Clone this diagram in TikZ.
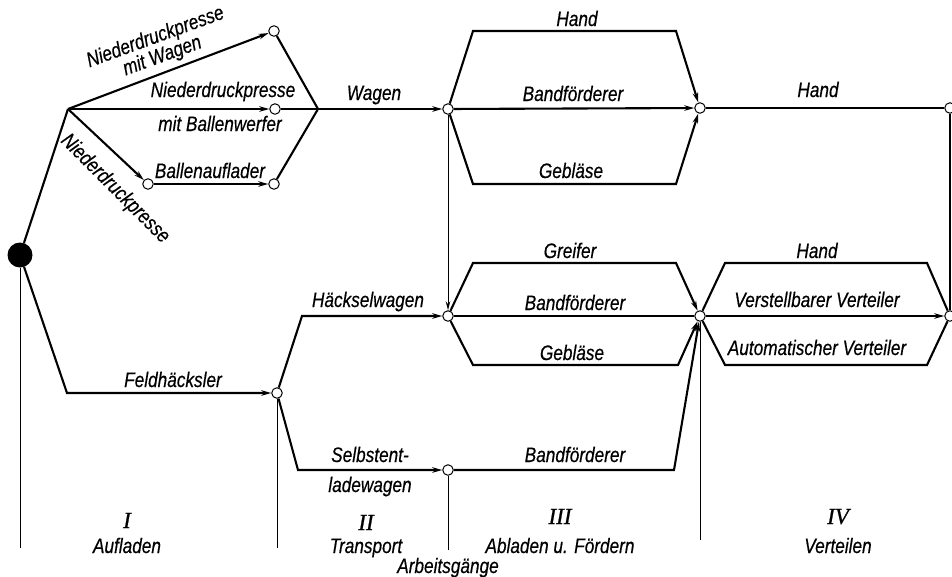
\documentclass[tikz,border=0pt]{standalone}
\usepackage{fontspec}
\setmainfont{Liberation Sans}
\newfontfamily\labfont[FakeStretch=0.82,FakeBold=0.4]{Liberation Sans}
\newfontfamily\romfont[FakeBold=0.8]{Liberation Serif}
\usetikzlibrary{arrows.meta}
\begin{document}
\begin{tikzpicture}[x=1pt,y=-1pt,
  mainline/.style={line width=2.1pt},
  guide/.style={line width=1pt},
  arr/.style={mainline,-{Stealth[length=10pt,width=5.5pt]}},
  hub/.style={circle,draw,fill=white,line width=1pt,inner sep=0pt,minimum size=10.5pt},
  lbl/.style={font=\fontsize{21}{20}\selectfont\labfont\itshape,inner sep=0pt,anchor=base},
  rom/.style={font=\fontsize{23}{24}\selectfont\romfont\itshape,inner sep=0pt,anchor=base}
]
\useasboundingbox (0,0) rectangle (952,576);
\fill[white] (0,0) rectangle (952,576);

% nodes
\node[circle,fill=black,inner sep=0pt,minimum size=25pt] (start) at (20,255) {};
\coordinate (b1) at (68,109);
\node[hub] (n1) at (274,31) {};
\node[hub] (n2) at (275,109) {};
\node[hub] (n3) at (148,184) {};
\node[hub] (n4) at (274,184) {};
\coordinate (m1) at (318,109);
\node[hub] (h1) at (448,109) {};
\node[hub] (h2) at (700,108) {};
\node[hub] (h3) at (950,108) {};
\node[hub] (L1) at (277,393) {};
\node[hub] (L2) at (448,316) {};
\node[hub] (L3) at (448,470) {};
\node[hub] (L4) at (700,316) {};
\node[hub] (L5) at (950,316) {};
\coordinate (e0) at (20,548);
\coordinate (e1) at (277,548);
\coordinate (e2) at (448,550);
\coordinate (e3) at (700,540);

% phase separators
\draw[guide] (start) -- (e0);
\draw[guide] (L1) -- (e1);
\draw[guide] (L3) -- (e2);
\draw[guide] (L4) -- (e3);
\draw[guide,-{Stealth[length=9pt,width=4.5pt]}] (h1) -- (L2);

% upper branch
\draw[mainline] (start) -- (b1);
\draw[arr] (b1) -- (n1);
\draw[arr] (b1) -- (n2);
\draw[arr] (b1) -- (n3);
\draw[arr] (n3) -- (n4);
\draw[mainline] (n1) -- (m1);
\draw[mainline] (n4) -- (m1);
\draw[mainline] (n2) -- (m1);
\draw[arr] (m1) -- (h1);
\draw[arr] (h1) -- (473,31) -- (676,31) -- (h2);
\draw[arr] (h1) -- (h2);
\draw[arr] (h1) -- (473,184) -- (676,184) -- (h2);
\draw[mainline] (h2) -- (h3);
\draw[mainline] (h3) -- (L5);

% lower branch
\draw[arr] (start) -- (67,393) -- (L1);
\draw[arr] (L1) -- (302,316) -- (L2);
\draw[arr] (L1) -- (298,470) -- (L3);
\draw[arr] (L2) -- (473,263) -- (676,263) -- (L4);
\draw[mainline] (L2) -- (L4);
\draw[arr] (L2) -- (473,365) -- (678,365) -- (L4);
\draw[arr] (L3) -- (674,470) -- (L4);
\draw[mainline] (L4) -- (725,263) -- (927,263) -- (L5);
\draw[arr] (L4) -- (L5);
\draw[mainline] (L4) -- (725,365) -- (927,365) -- (L5);

% labels
\node[lbl,anchor=center,rotate=20,align=center] (t1) at (159,47) {Niederdruckpresse\\mit Wagen};
\node[lbl,anchor=center,rotate=-45] (t2) at (115,189) {Niederdruckpresse};
\node[lbl] (t3) at (223,97) {Niederdruckpresse};
\node[lbl] (t4) at (220,131) {mit Ballenwerfer};
\node[lbl] (t5) at (210,178) {Ballenauflader};
\node[lbl] (t6) at (374,100) {Wagen};
\node[lbl] (t7) at (577,26) {Hand};
\node[lbl] (t8) at (573,101) {Bandförderer};
\node[lbl] (t9) at (571,178) {Gebläse};
\node[lbl] (t10) at (818,97) {Hand};
\node[lbl] (t11) at (570,258) {Greifer};
\node[lbl] (t12) at (575,310) {Bandförderer};
\node[lbl] (t13) at (572,360) {Gebläse};
\node[lbl] (t14) at (368,307) {Häckselwagen};
\node[lbl] (t15) at (173,387) {Feldhäcksler};
\node[lbl] (t16) at (817,258) {Hand};
\node[lbl] (t17) at (817,307) {Verstellbarer Verteiler};
\node[lbl] (t18) at (817,355) {Automatischer Verteiler};
\node[lbl] (t19) at (575,462) {Bandförderer};
\node[lbl] (t20) at (370,462) {Selbstent-};
\node[lbl] (t21) at (370,492) {ladewagen};
\node[rom] (r1) at (127,528) {I};
\node[rom] (r2) at (366,530) {II};
\node[rom] (r3) at (560,524) {III};
\node[rom] (r4) at (838,524) {IV};
\node[lbl] (p1) at (127,553) {Aufladen};
\node[lbl] (p2) at (366,553) {Transport};
\node[lbl] (p3) at (560,553) {Abladen u. Fördern};
\node[lbl] (p4) at (838,553) {Verteilen};
\node[lbl] (p5) at (448,573) {Arbeitsgänge};
\end{tikzpicture}
\end{document}
